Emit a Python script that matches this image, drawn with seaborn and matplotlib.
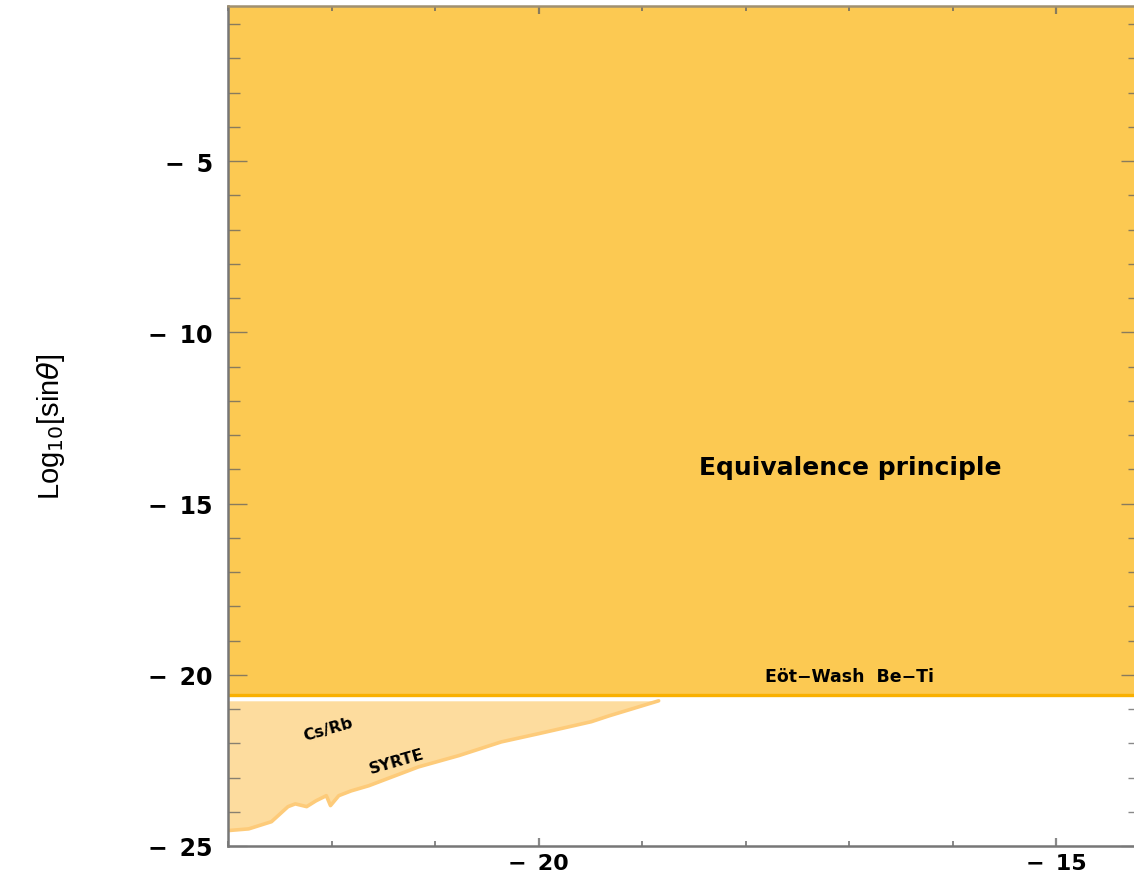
import numpy as np
import pandas as pd
import matplotlib
matplotlib.use("Agg")
import matplotlib.pyplot as plt
import seaborn as sns
from matplotlib.ticker import MultipleLocator, FixedLocator, FuncFormatter

# Axis ranges (log10 of mass / log10 of mixing angle)
x_range = [-23.0, -14.19]
y_range = [-25.0, -0.47]

# Equivalence-principle exclusion (Eöt-Wash Be-Ti), constant bound
ep_x = [-23.0, -14.19]
ep_y = [-20.6, -20.6]

# Cs/Rb clock comparison (SYRTE) lower edge
csrb_x = [-23.0, -22.80, -22.58, -22.42, -22.35, -22.24, -22.15, -22.05, -22.01,
          -21.93, -21.81, -21.64, -21.16, -20.77, -20.36, -20.00, -19.49, -19.32,
          -18.84]
csrb_y = [-24.55, -24.50, -24.29, -23.85, -23.77, -23.85, -23.68, -23.53, -23.82,
          -23.53, -23.39, -23.24, -22.69, -22.36, -21.96, -21.72, -21.37, -21.20,
          -20.76]
csrb_top = -20.76

y_major = [-5, -10, -15, -20, -25]
x_major = [-20, -15]

sns.set_theme(style="ticks")
plt.rcParams["font.family"] = ["DejaVu Sans"]

fig = plt.figure(figsize=(11.34, 8.78), dpi=100)
ax = fig.add_axes([228 / 1134, 31 / 878, 912 / 1134, 840 / 878])
ax.set_axisbelow(False)

ep = pd.DataFrame({"x": ep_x, "y": ep_y})
cs = pd.DataFrame({"x": csrb_x, "y": csrb_y})

# Excluded regions
ax.fill_between(ep["x"], ep["y"], y_range[1], color="#FCC952", lw=0, zorder=1)
ax.fill_between(cs["x"], cs["y"], csrb_top, color="#FDDC9E", lw=0, zorder=1)

# Region edges
sns.lineplot(data=ep, x="x", y="y", ax=ax, color="#F9B000", lw=2.4, zorder=3,
             sort=False)
sns.lineplot(data=cs, x="x", y="y", ax=ax, color="#FDCB7A", lw=2.6, zorder=2,
             sort=False)

ax.set_xlim(*x_range)
ax.set_ylim(*y_range)

# Ticks
ax.xaxis.set_major_locator(FixedLocator(x_major))
ax.xaxis.set_minor_locator(MultipleLocator(1))
ax.yaxis.set_major_locator(FixedLocator(y_major))
ax.yaxis.set_minor_locator(MultipleLocator(1))

fmt = FuncFormatter(lambda v, p: "\u2212\u2002" + f"{abs(int(round(v)))}")
ax.xaxis.set_major_formatter(fmt)
ax.yaxis.set_major_formatter(fmt)

tick_col = (0.38, 0.38, 0.38, 0.75)
ax.tick_params(axis="y", which="major", direction="in", length=14, width=1.0,
               color=tick_col, left=True, right=True, pad=11, labelsize=17)
ax.tick_params(axis="y", which="minor", direction="in", length=8.5, width=1.0,
               color=tick_col, left=True, right=True)
ax.tick_params(axis="x", which="major", direction="in", length=6, width=1.6,
               color=tick_col, bottom=True, top=True, pad=5, labelsize=16)
ax.tick_params(axis="x", which="minor", direction="in", length=3.5, width=1.4,
               color=tick_col, bottom=True, top=True)
for lab in ax.get_xticklabels() + ax.get_yticklabels():
    lab.set_fontweight("bold")
    lab.set_color("black")

for side in ["left", "bottom", "top", "right"]:
    ax.spines[side].set_visible(True)
    ax.spines[side].set_color("#777777")
    ax.spines[side].set_linewidth(1.8)
    ax.spines[side].set_zorder(5)
ax.spines["top"].set_color("#A09070")

ax.set_xlabel("")
ax.set_ylabel(r"Log$_{10}$[sin$\theta$]", fontsize=21, color="black",
              family=["Liberation Sans", "DejaVu Sans"])
ax.yaxis.set_label_coords(-(228 - 67) / 912, 0.5)

# Region labels
ax.text(-16.99, -13.93, "Equivalence principle", ha="center", va="center",
        fontsize=18, fontweight="bold", color="black", zorder=6)
ax.text(-17.0, -20.05, "Eöt\u2212Wash  Be\u2212Ti", ha="center", va="center",
        fontsize=12.5, fontweight="bold", color="black", zorder=6)
ax.text(-22.03, -21.58, "Cs/Rb", ha="center", va="center", rotation=16,
        fontsize=11.5, fontweight="bold", color="black", zorder=6)
ax.text(-21.37, -22.52, "SYRTE", ha="center", va="center", rotation=16,
        fontsize=11.5, fontweight="bold", color="black", zorder=6)

fig.savefig("out.png", dpi=100)
